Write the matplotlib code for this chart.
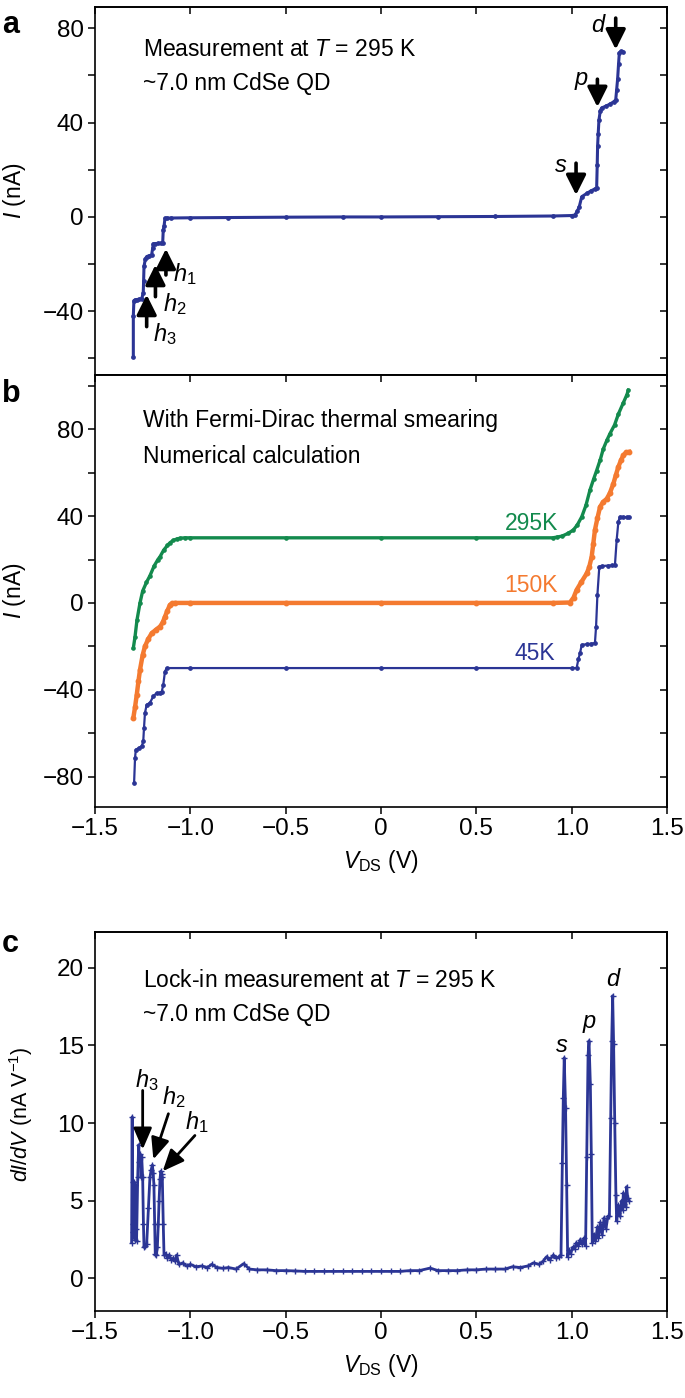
import matplotlib
matplotlib.use('Agg')
import matplotlib.pyplot as plt
from matplotlib.ticker import MultipleLocator, FuncFormatter

plt.rcParams['font.family'] = 'Liberation Sans'
plt.rcParams['mathtext.fontset'] = 'custom'
plt.rcParams['mathtext.rm'] = 'Liberation Sans'
plt.rcParams['mathtext.it'] = 'Liberation Sans:italic'
plt.rcParams['font.size'] = 16
plt.rcParams['axes.linewidth'] = 1.2

BLUE = '#2b3595'
GREEN = '#138a4d'
ORANGE = '#f47a30'

# --- panel a: measured I-V at 295 K ---
v_meas = [-1.299, -1.299, -1.296, -1.290, -1.280, -1.268, -1.255, -1.247, -1.245, -1.243,
          -1.236, -1.229, -1.215, -1.203, -1.197, -1.194, -1.185, -1.170, -1.155, -1.145,
          -1.142, -1.138, -1.133, -1.120, -1.10, -1.0, -0.8, -0.5, -0.2, 0.0,
          0.3, 0.6, 0.9, 1.0, 1.017, 1.030, 1.040, 1.053, 1.08, 1.10,
          1.12, 1.131, 1.134, 1.136, 1.139, 1.143, 1.150, 1.157, 1.18, 1.20,
          1.22, 1.231, 1.236, 1.241, 1.246, 1.250, 1.258, 1.267]
i_meas = [-59.5, -42, -35.5, -35.2, -35.0, -34.9, -34.6, -32.3, -27, -21,
          -17.8, -16.8, -16.4, -16.1, -13, -11.4, -11.3, -11.2, -11.1, -11.0,
          -5.5, -4, -0.6, -0.5, -0.45, -0.35, -0.25, -0.1, 0, 0,
          0.1, 0.2, 0.4, 0.6, 0.8, 2.5, 4.4, 8.6, 10.0, 11.0,
          11.8, 12.2, 22, 30, 35, 41, 45, 46.2, 47.0, 47.8,
          48.8, 49.6, 54, 58.5, 65, 69.6, 70.2, 70.0]

# arrows panel a: x, tail, tip
arrows_a_x = [-1.128, -1.183, -1.229, 1.023, 1.135, 1.231]
arrows_a_tail = [-24.6, -33.8, -46.5, 22.8, 58.4, 84.3]
arrows_a_tip = [-13.5, -20.3, -33.0, 9.3, 46.6, 71.0]

# --- panel b: numerical calculation ---
v_295 = [-1.299, -1.290, -1.280, -1.264, -1.250, -1.230, -1.212, -1.190, -1.170, -1.159,
         -1.140, -1.120, -1.107, -1.090, -1.070, -1.054, -1.030, -1.0, -0.5, 0,
         0.5, 0.9, 0.921, 0.95, 0.98, 1.009, 1.030, 1.053, 1.075, 1.096,
         1.115, 1.131, 1.150, 1.166, 1.185, 1.201, 1.225, 1.245, 1.270, 1.290, 1.297]
i_295 = [-20.8, -15.5, -8, 0, 5.5, 9.5, 12.5, 17, 20, 21.3,
         24.3, 26.5, 27.7, 28.8, 29.5, 29.8, 30, 30, 30, 30,
         30, 30, 30.3, 30.8, 32, 33.6, 36, 39.7, 45, 52,
         57, 61, 66, 71, 75, 78, 82, 87, 92, 96, 98]

v_150 = [-1.299, -1.290, -1.281, -1.272, -1.264, -1.250, -1.238, -1.220, -1.203, -1.180,
         -1.159, -1.145, -1.133, -1.120, -1.107, -1.095, -1.080, -1.0, -0.5, 0,
         0.5, 0.9, 0.991, 1.010, 1.026, 1.050, 1.079, 1.092, 1.105, 1.113,
         1.122, 1.135, 1.149, 1.165, 1.184, 1.200, 1.219, 1.232, 1.245, 1.260,
         1.271, 1.285, 1.302]
i_150 = [-53, -48, -42.3, -36, -30.8, -24, -20, -16.5, -14, -12.3,
         -10.9, -9, -6.3, -3.5, -0.9, -0.2, 0, 0, 0, 0,
         0, 0, 0.2, 2.5, 6, 9.5, 13.6, 16.5, 21.3, 27,
         33.6, 39, 44.3, 46.5, 48, 50.5, 55, 59, 62.7, 66,
         68, 69.3, 69.6]

v_45 = [-1.295, -1.290, -1.286, -1.270, -1.255, -1.247, -1.243, -1.238, -1.229, -1.212,
        -1.194, -1.177, -1.160, -1.150, -1.142, -1.133, -1.124, -1.0, -0.5, 0,
        0.5, 1.0, 1.026, 1.035, 1.044, 1.053, 1.08, 1.10, 1.122, 1.128,
        1.135, 1.145, 1.16, 1.19, 1.21, 1.227, 1.236, 1.245, 1.253, 1.27,
        1.29, 1.302]
i_45 = [-82.9, -71.4, -67.6, -66.8, -66, -63.8, -57.6, -50.7, -46.9, -46,
        -43, -41.5, -41.3, -41, -37.7, -31.6, -30, -30, -30, -30,
        -30, -30, -30, -26, -23, -19.3, -19, -18.8, -18.5, -10.9,
        3.7, 16.7, 17, 17.2, 17.3, 17.5, 29, 37.4, 39.7, 39.6,
        39.5, 39.5]

temp_labels = ['295K', '150K', '45K']

# --- panel c: lock-in dI/dV ---
v_lock = [-1.308, -1.305, -1.303, -1.301, -1.299, -1.297, -1.295, -1.293, -1.291, -1.289,
          -1.286, -1.282, -1.276, -1.271, -1.267, -1.262, -1.258, -1.255, -1.250, -1.246,
          -1.243, -1.236, -1.229, -1.220, -1.212, -1.205, -1.199, -1.195, -1.191, -1.187,
          -1.184, -1.178, -1.173, -1.168, -1.164, -1.159, -1.155, -1.150, -1.147, -1.142,
          -1.138, -1.130, -1.120, -1.110, -1.100, -1.090, -1.080, -1.072, -1.060, -1.040,
          -1.020, -1.000, -0.970, -0.940, -0.910, -0.888, -0.860, -0.830, -0.800, -0.760,
          -0.720, -0.690, -0.650, -0.600, -0.550, -0.500, -0.450, -0.400, -0.350, -0.300,
          -0.250, -0.200, -0.150, -0.100, -0.050, 0.000, 0.050, 0.100, 0.150, 0.200,
          0.257, 0.300, 0.350, 0.400, 0.450, 0.500, 0.550, 0.600, 0.650, 0.690,
          0.730, 0.770, 0.800, 0.830, 0.850, 0.869, 0.885, 0.904, 0.920, 0.935,
          0.944, 0.951, 0.956, 0.961, 0.968, 0.974, 0.979, 0.985, 0.995, 1.005,
          1.015, 1.025, 1.035, 1.045, 1.055, 1.065, 1.073, 1.079, 1.086, 1.091,
          1.098, 1.103, 1.108, 1.115, 1.125, 1.135, 1.140, 1.150, 1.160, 1.170,
          1.180, 1.190, 1.198, 1.205, 1.210, 1.215, 1.220, 1.226, 1.232, 1.236,
          1.241, 1.245, 1.253, 1.258, 1.262, 1.267, 1.271, 1.276, 1.280, 1.284,
          1.288, 1.294, 1.302]
didv_lock = [2.3, 10.4, 3.5, 6.2, 3.0, 6.0, 4.0, 6.2, 2.5, 6.0,
             3.2, 2.4, 6.5, 8.6, 7.5, 8.0, 6.5, 7.8, 6.5, 3.5,
             2.0, 2.1, 2.2, 4.5, 6.5, 7.0, 7.3, 6.8, 6.0, 3.5,
             1.6, 1.5, 2.0, 3.5, 5.0, 6.4, 6.9, 6.7, 6.5, 3.5,
             1.5, 1.6, 1.3, 1.5, 1.2, 1.3, 1.1, 1.5, 0.9, 1.0,
             0.8, 0.9, 0.75, 0.8, 0.7, 0.9, 0.7, 0.65, 0.7, 0.6,
             0.95, 0.6, 0.55, 0.55, 0.5, 0.5, 0.48, 0.45, 0.45, 0.45,
             0.45, 0.45, 0.45, 0.45, 0.45, 0.45, 0.45, 0.45, 0.5, 0.5,
             0.66, 0.5, 0.5, 0.5, 0.55, 0.55, 0.6, 0.6, 0.6, 0.75,
             0.7, 0.8, 1.0, 0.9, 1.1, 1.4, 1.2, 1.5, 1.3, 1.4,
             1.5, 7.4, 11.6, 14.2, 11.0, 6.0, 1.4, 1.8, 1.6, 2.0,
             1.9, 2.3, 2.1, 2.5, 2.2, 2.6, 2.1, 7.8, 14.4, 15.3,
             12.5, 8.0, 2.3, 2.8, 2.4, 3.3, 2.6, 3.6, 2.8, 3.9,
             3.2, 4.0, 4.0, 10.3, 15.3, 18.2, 15.1, 10.0, 5.4, 3.7,
             4.2, 4.7, 4.0, 4.6, 5.0, 4.4, 5.5, 4.8, 5.2, 4.6,
             5.9, 5.2, 5.0]

# arrows panel c: tail, tip
arrows_c_tail = [(-1.250, 12.1), (-1.115, 10.6), (-0.976, 9.2)]
arrows_c_tip = [(-1.250, 8.3), (-1.194, 7.66), (-1.145, 6.9)]

TICK_FS = 17.5
TXT_FS = 16.5


def xfmt(v, pos):
    if abs(v) < 1e-9:
        return '0'
    return f'{v:.1f}'.replace('-', '\u2212')


def yfmt_every(step):
    def f(v, pos):
        if abs(v / step - round(v / step)) > 1e-6:
            return ''
        return f'{v:.0f}'.replace('-', '\u2212')
    return f


def style_axes(ax, ystep, ylabel_step, show_xlabels):
    ax.set_xlim(-1.5, 1.5)
    ax.xaxis.set_major_locator(MultipleLocator(0.5))
    ax.yaxis.set_major_locator(MultipleLocator(ystep))
    ax.xaxis.set_major_formatter(FuncFormatter(xfmt))
    ax.yaxis.set_major_formatter(FuncFormatter(yfmt_every(ylabel_step)))
    ax.tick_params(axis='both', direction='out', length=5, width=1.1, pad=3, labelsize=TICK_FS)
    if not show_xlabels:
        ax.tick_params(axis='x', bottom=False, labelbottom=False)
    # mirrored ticks pointing inward on top and right
    sx = ax.secondary_xaxis('top')
    sx.xaxis.set_major_locator(MultipleLocator(0.5))
    sx.tick_params(direction='in', length=5, width=1.1, labeltop=False)
    sy = ax.secondary_yaxis('right')
    sy.yaxis.set_major_locator(MultipleLocator(ystep))
    sy.tick_params(direction='in', length=5, width=1.1, labelright=False)


fig = plt.figure(figsize=(6.85, 13.98), dpi=100)
W = 685.0
H = 1398.0


def add_ax(left, top, right, bottom):
    return fig.add_axes([left / W, 1 - bottom / H, (right - left) / W, (bottom - top) / H])


ax_a = add_ax(95, 7, 667, 375)
ax_b = add_ax(95, 375, 667, 807)
ax_c = add_ax(95, 932, 667, 1311)

# ---- a ----
ax_a.plot(v_meas, i_meas, color=BLUE, lw=2.2, marker='o', ms=2.4)
ax_a.set_ylim(-67, 89)
style_axes(ax_a, 20, 40, False)
ax_a.set_ylabel(r'$I$ (nA)', fontsize=16.5)
ax_a.yaxis.set_label_coords(-0.118, 0.5)
ax_a.text(0.084, 0.867, r'Measurement at $T$ = 295 K', transform=ax_a.transAxes,
          fontsize=TXT_FS, va='baseline')
ax_a.text(0.084, 0.774, '~7.0 nm CdSe QD', transform=ax_a.transAxes,
          fontsize=TXT_FS, va='baseline')
for x, t0, t1 in zip(arrows_a_x, arrows_a_tail, arrows_a_tip):
    ax_a.annotate('', xy=(x, t1), xytext=(x, t0),
                  arrowprops=dict(arrowstyle='-|>,head_length=0.6,head_width=0.3',
                                  mutation_scale=20, lw=2.6, color='black',
                                  shrinkA=0, shrinkB=0))
ax_a.text(-1.091, -27.4, r'$h_1$', fontsize=17, va='baseline', ha='left')
ax_a.text(-1.143, -40.1, r'$h_2$', fontsize=17, va='baseline', ha='left')
ax_a.text(-1.196, -52.8, r'$h_3$', fontsize=17, va='baseline', ha='left')
ax_a.text(0.944, 19.2, r'$s$', fontsize=17, va='baseline', ha='center')
ax_a.text(1.049, 55.9, r'$p$', fontsize=17, va='baseline', ha='center')
ax_a.text(1.143, 78.5, r'$d$', fontsize=17, va='baseline', ha='center')

# ---- b ----
ax_b.plot(v_295, i_295, color=GREEN, lw=2.4, marker='o', ms=2.3)
ax_b.plot(v_150, i_150, color=ORANGE, lw=3.2, marker='o', ms=3.2)
ax_b.plot(v_45, i_45, color=BLUE, lw=1.6, marker='o', ms=2.4)
ax_b.set_ylim(-94, 105)
style_axes(ax_b, 20, 40, True)
ax_b.set_ylabel(r'$I$ (nA)', fontsize=16.5)
ax_b.yaxis.set_label_coords(-0.118, 0.5)
ax_b.set_xlabel(r'$V_{\rm DS}$ (V)', fontsize=16.5, labelpad=6)
ax_b.text(0.084, 0.880, 'With Fermi-Dirac thermal smearing', transform=ax_b.transAxes,
          fontsize=TXT_FS, va='baseline')
ax_b.text(0.084, 0.796, 'Numerical calculation', transform=ax_b.transAxes,
          fontsize=TXT_FS, va='baseline')
ax_b.text(0.928, 33.6, temp_labels[0], color=GREEN, fontsize=TXT_FS, ha='right', va='baseline')
ax_b.text(0.928, 5.2, temp_labels[1], color=ORANGE, fontsize=TXT_FS, ha='right', va='baseline')
ax_b.text(0.913, -26.2, temp_labels[2], color=BLUE, fontsize=TXT_FS, ha='right', va='baseline')

# ---- c ----
ax_c.plot(v_lock, didv_lock, color=BLUE, lw=2.0, marker='+', ms=4, mew=1.0)
ax_c.set_ylim(-2.1, 22.3)
style_axes(ax_c, 5, 5, True)
ax_c.set_ylabel(r'$dI/dV$ (nA V$^{-1}$)', fontsize=15.5)
ax_c.yaxis.set_label_coords(-0.105, 0.52)
ax_c.set_xlabel(r'$V_{\rm DS}$ (V)', fontsize=16.5, labelpad=6)
ax_c.text(0.084, 0.855, r'Lock-in measurement at $T$ = 295 K', transform=ax_c.transAxes,
          fontsize=TXT_FS, va='baseline')
ax_c.text(0.084, 0.765, '~7.0 nm CdSe QD', transform=ax_c.transAxes,
          fontsize=TXT_FS, va='baseline')
for t0, t1 in zip(arrows_c_tail, arrows_c_tip):
    ax_c.annotate('', xy=t1, xytext=t0,
                  arrowprops=dict(arrowstyle='-|>,head_length=0.65,head_width=0.28',
                                  mutation_scale=20, lw=2.0, color='black',
                                  shrinkA=0, shrinkB=0))
ax_c.text(-1.290, 12.3, r'$h_3$', fontsize=17, va='baseline', ha='left')
ax_c.text(-1.150, 11.2, r'$h_2$', fontsize=17, va='baseline', ha='left')
ax_c.text(-1.028, 9.6, r'$h_1$', fontsize=17, va='baseline', ha='left')
ax_c.text(0.949, 14.6, r'$s$', fontsize=17, va='baseline', ha='center')
ax_c.text(1.096, 16.1, r'$p$', fontsize=17, va='baseline', ha='center')
ax_c.text(1.222, 18.8, r'$d$', fontsize=17, va='baseline', ha='center')

# panel letters
fig.text(2 / W, 1 - 33 / H, 'a', fontsize=22, fontweight='bold', va='baseline')
fig.text(2 / W, 1 - 402 / H, 'b', fontsize=22, fontweight='bold', va='baseline')
fig.text(2 / W, 1 - 952 / H, 'c', fontsize=22, fontweight='bold', va='baseline')

fig.savefig('out.png', dpi=100)
